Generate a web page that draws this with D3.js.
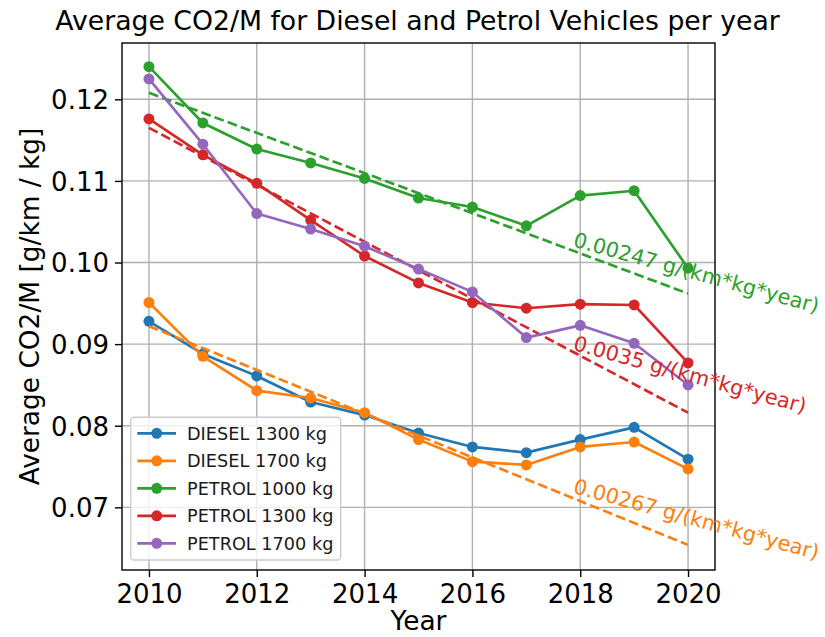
<!DOCTYPE html>
<html>
<head>
<meta charset="utf-8">
<script src="https://cdn.jsdelivr.net/npm/d3@7"></script>
<style>
  html, body { margin: 0; padding: 0; background: #ffffff; }
  svg { display: block; font-family: "DejaVu Sans", sans-serif; }
</style>
</head>
<body>
<svg id="chart" width="825" height="637"></svg>
<script>
// ---------------- data ----------------
const years = [2010, 2011, 2012, 2013, 2014, 2015, 2016, 2017, 2018, 2019, 2020];
const seriesNames = ["DIESEL 1300 kg", "DIESEL 1700 kg", "PETROL 1000 kg", "PETROL 1300 kg", "PETROL 1700 kg"];
const seriesColors = ["#1f77b4", "#ff7f0e", "#2ca02c", "#d62728", "#9467bd"];
const diesel1300 = [0.0928, 0.0888, 0.0861, 0.0829, 0.0813, 0.0791, 0.0774, 0.0767, 0.0783, 0.0798, 0.0759];
const diesel1700 = [0.0951, 0.0885, 0.0843, 0.0834, 0.0816, 0.0783, 0.0756, 0.0752, 0.0774, 0.0780, 0.0747];
const petrol1000 = [0.1240, 0.1171, 0.1139, 0.1122, 0.1103, 0.1079, 0.1068, 0.1045, 0.1082, 0.1088, 0.0993];
const petrol1300 = [0.1176, 0.1132, 0.1097, 0.1052, 0.1008, 0.0975, 0.0951, 0.0944, 0.0949, 0.0948, 0.0877];
const petrol1700 = [0.1225, 0.1145, 0.1060, 0.1041, 0.1020, 0.0992, 0.0964, 0.0908, 0.0923, 0.0901, 0.0850];
const seriesValues = [diesel1300, diesel1700, petrol1000, petrol1300, petrol1700];

// trend lines (endpoints)
const trendYears = [2010, 2020];
const trendDiesel1700 = [0.0922, 0.0654];
const trendPetrol1000 = [0.1208, 0.0962];
const trendPetrol1300 = [0.1165, 0.0816];
const trendSeriesIndex = [1, 2, 3];
const trendValues = [trendDiesel1700, trendPetrol1000, trendPetrol1300];
const trendLabels = ["0.00267 g/(km*kg*year)", "0.00247 g/(km*kg*year)", "0.0035 g/(km*kg*year)"];
const trendLabelX = [2017.85, 2017.85, 2017.85];
const trendLabelY = [0.0718, 0.1020, 0.0893];

const xTicks = [2010, 2012, 2014, 2016, 2018, 2020];
const yTicks = [0.07, 0.08, 0.09, 0.10, 0.11, 0.12];

const titleText = "Average CO2/M for Diesel and Petrol Vehicles per year";
const xLabel = "Year";
const yLabel = "Average CO2/M [g/km / kg]";

// ---------------- layout ----------------
const L = 122, R = 715, T = 43, B = 570;
const svg = d3.select("#chart");

const x = d3.scaleLinear().domain([2009.5, 2020.5]).range([L, R]);
const y = d3.scaleLinear().domain([0.06232, 0.12690]).range([B, T]);

// grid
const grid = svg.append("g");
grid.selectAll("line.vx").data(xTicks).enter().append("line")
  .attr("x1", d => x(d)).attr("x2", d => x(d)).attr("y1", T).attr("y2", B)
  .attr("stroke", "#b0b0b0").attr("stroke-width", 1.4);
grid.selectAll("line.hy").data(yTicks).enter().append("line")
  .attr("x1", L).attr("x2", R).attr("y1", d => y(d)).attr("y2", d => y(d))
  .attr("stroke", "#b0b0b0").attr("stroke-width", 1.4);

// axes
const xAxis = d3.axisBottom(x).tickValues(xTicks).tickFormat(d3.format("d")).tickSizeInner(7).tickSizeOuter(0).tickPadding(6);
const yAxis = d3.axisLeft(y).tickValues(yTicks).tickFormat(d3.format(".2f")).tickSizeInner(7).tickSizeOuter(0).tickPadding(6);

const gx = svg.append("g").attr("transform", `translate(0,${B})`).call(xAxis);
const gy = svg.append("g").attr("transform", `translate(${L},0)`).call(yAxis);
[gx, gy].forEach(g => {
  g.select(".domain").remove();
  g.selectAll(".tick line").attr("stroke", "#000").attr("stroke-width", 1.4);
  g.selectAll(".tick text").attr("fill", "#000").attr("font-size", 26).attr("font-family", "DejaVu Sans");
});
gy.selectAll(".tick text").attr("dy", "0.36em");
gx.selectAll(".tick text").attr("dy", "0.76em");

// data lines
const line = d3.line().x((d, i) => x(years[i])).y(d => y(d));
const trendLine = d3.line().x((d, i) => x(trendYears[i])).y(d => y(d));
const plot = svg.append("g");

seriesValues.forEach((vals, s) => {
  plot.append("path").datum(vals)
    .attr("d", line).attr("fill", "none")
    .attr("stroke", seriesColors[s]).attr("stroke-width", 2.65)
    .attr("stroke-linejoin", "round").attr("stroke-linecap", "square");
  plot.selectAll(null).data(vals).enter().append("circle")
    .attr("cx", (d, i) => x(years[i])).attr("cy", d => y(d)).attr("r", 5.5)
    .attr("fill", seriesColors[s]);
  const ti = trendSeriesIndex.indexOf(s);
  if (ti >= 0) {
    plot.append("path").datum(trendValues[ti])
      .attr("d", trendLine).attr("fill", "none")
      .attr("stroke", seriesColors[s]).attr("stroke-width", 2.65)
      .attr("stroke-dasharray", "9.8,4.2");
  }
});

// frame
svg.append("rect").attr("x", L).attr("y", T).attr("width", R - L).attr("height", B - T)
  .attr("fill", "none").attr("stroke", "#000").attr("stroke-width", 1.4);

// legend
const lg = svg.append("g");
lg.append("rect").attr("x", 130.7).attr("y", 417.3).attr("width", 210).attr("height", 142.7)
  .attr("rx", 3.5).attr("fill", "#ffffff").attr("fill-opacity", 0.8)
  .attr("stroke", "#cccccc").attr("stroke-width", 1.4);
seriesNames.forEach((name, s) => {
  const ry = 433.3 + s * 27.5;
  lg.append("line").attr("x1", 137.3).attr("x2", 176).attr("y1", ry).attr("y2", ry)
    .attr("stroke", seriesColors[s]).attr("stroke-width", 2.65);
  lg.append("circle").attr("cx", 156.7).attr("cy", ry).attr("r", 5.5).attr("fill", seriesColors[s]);
  lg.append("text").attr("x", 187).attr("y", ry).attr("dy", "0.36em")
    .attr("font-size", 17.7).attr("fill", "#1a1a1a").text(name);
});

// trend annotations
trendLabels.forEach((t, i) => {
  const s = trendSeriesIndex[i];
  const px = x(trendLabelX[i]), py = y(trendLabelY[i]);
  svg.append("text").attr("transform", `translate(${px},${py}) rotate(15.3)`)
    .attr("font-size", 20.8).attr("fill", seriesColors[s]).text(t);
});

// titles
svg.append("text").attr("x", (L + R) / 2 - 1).attr("y", 30).attr("text-anchor", "middle")
  .attr("font-size", 26.7).attr("fill", "#000").text(titleText);
svg.append("text").attr("x", (L + R) / 2).attr("y", 630).attr("text-anchor", "middle")
  .attr("font-size", 26.4).attr("fill", "#000").text(xLabel);
svg.append("text").attr("transform", `translate(39,${(T + B) / 2}) rotate(-90)`).attr("text-anchor", "middle")
  .attr("font-size", 26.4).attr("fill", "#000").text(yLabel);
</script>
</body>
</html>
